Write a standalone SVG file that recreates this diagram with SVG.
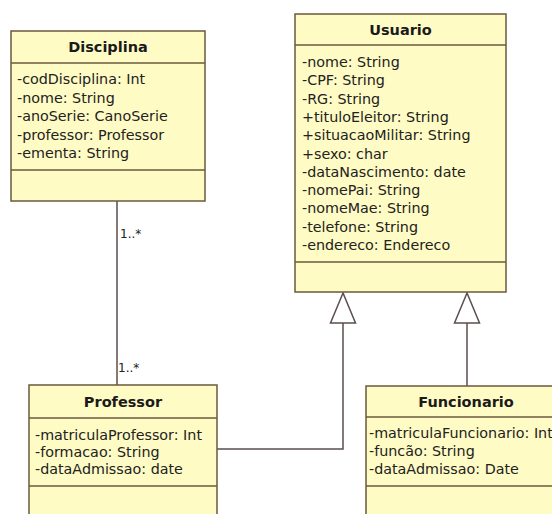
<svg xmlns="http://www.w3.org/2000/svg" width="552" height="514" viewBox="0 0 552 514">
  <style>
    .box { fill: #fffbc4; stroke: #6b5a3c; stroke-width: 1.5; }
    .sep { stroke: #6b5a3c; stroke-width: 1.5; fill: none; }
    .title { font-family: "DejaVu Sans", Verdana, sans-serif; font-weight: bold; font-size: 14.5px; fill: #1a1a1a; text-anchor: middle; }
    .attr { font-family: "DejaVu Sans", Verdana, sans-serif; font-size: 14.3px; fill: #222; }
    .link { stroke: #5c4e4e; stroke-width: 1.5; fill: none; }
    .gen { fill: #ffffff; stroke: #5c4e4e; stroke-width: 1.5; }
    .mult { font-family: "DejaVu Sans", Verdana, sans-serif; font-size: 12px; fill: #222; }
  </style>

  <rect width="552" height="514" fill="#ffffff"/>

  <!-- associations and generalizations -->
  <g id="connectors">
    <line class="link" x1="117" y1="201" x2="117" y2="385"/>
    <text class="mult" x="120" y="238">1..*</text>
    <text class="mult" x="118" y="372">1..*</text>

    <polyline class="link" points="217,449 343,449 343,323"/>
    <polygon class="gen" points="343,293 330.5,323 355.5,323"/>

    <line class="link" x1="467" y1="386" x2="467" y2="323"/>
    <polygon class="gen" points="467,293 454.5,323 479.5,323"/>
  </g>

  <g id="disciplina">
    <rect class="box" x="11" y="31" width="194" height="170"/>
    <line class="sep" x1="11" y1="63" x2="205" y2="63"/>
    <line class="sep" x1="11" y1="170" x2="205" y2="170"/>
    <text class="title" x="108" y="52">Disciplina</text>
    <text class="attr" x="17" y="84">-codDisciplina: Int</text>
    <text class="attr" x="17" y="102.5">-nome: String</text>
    <text class="attr" x="17" y="121">-anoSerie: CanoSerie</text>
    <text class="attr" x="17" y="139.5">-professor: Professor</text>
    <text class="attr" x="17" y="158">-ementa: String</text>
  </g>

  <g id="usuario">
    <rect class="box" x="295" y="14" width="211" height="278"/>
    <line class="sep" x1="295" y1="45" x2="506" y2="45"/>
    <line class="sep" x1="295" y1="262" x2="506" y2="262"/>
    <text class="title" x="400.5" y="35">Usuario</text>
    <text class="attr" x="302" y="67">-nome: String</text>
    <text class="attr" x="302" y="85.3">-CPF: String</text>
    <text class="attr" x="302" y="103.6">-RG: String</text>
    <text class="attr" x="302" y="121.9">+tituloEleitor: String</text>
    <text class="attr" x="302" y="140.2">+situacaoMilitar: String</text>
    <text class="attr" x="302" y="158.5">+sexo: char</text>
    <text class="attr" x="302" y="176.8">-dataNascimento: date</text>
    <text class="attr" x="302" y="195.1">-nomePai: String</text>
    <text class="attr" x="302" y="213.4">-nomeMae: String</text>
    <text class="attr" x="302" y="231.7">-telefone: String</text>
    <text class="attr" x="302" y="250">-endereco: Endereco</text>
  </g>

  <g id="professor">
    <rect class="box" x="29" y="385" width="188" height="140"/>
    <line class="sep" x1="29" y1="418" x2="217" y2="418"/>
    <line class="sep" x1="29" y1="486" x2="217" y2="486"/>
    <text class="title" x="123" y="407">Professor</text>
    <text class="attr" x="35" y="440">-matriculaProfessor: Int</text>
    <text class="attr" x="35" y="457">-formacao: String</text>
    <text class="attr" x="35" y="474">-dataAdmissao: date</text>
  </g>

  <g id="funcionario">
    <rect class="box" x="366" y="386" width="200" height="140"/>
    <line class="sep" x1="366" y1="417" x2="566" y2="417"/>
    <line class="sep" x1="366" y1="486" x2="566" y2="486"/>
    <text class="title" x="466" y="407">Funcionario</text>
    <text class="attr" x="369" y="438">-matriculaFuncionario: Int</text>
    <text class="attr" x="369" y="456">-funcão: String</text>
    <text class="attr" x="369" y="474">-dataAdmissao: Date</text>
  </g>
</svg>
